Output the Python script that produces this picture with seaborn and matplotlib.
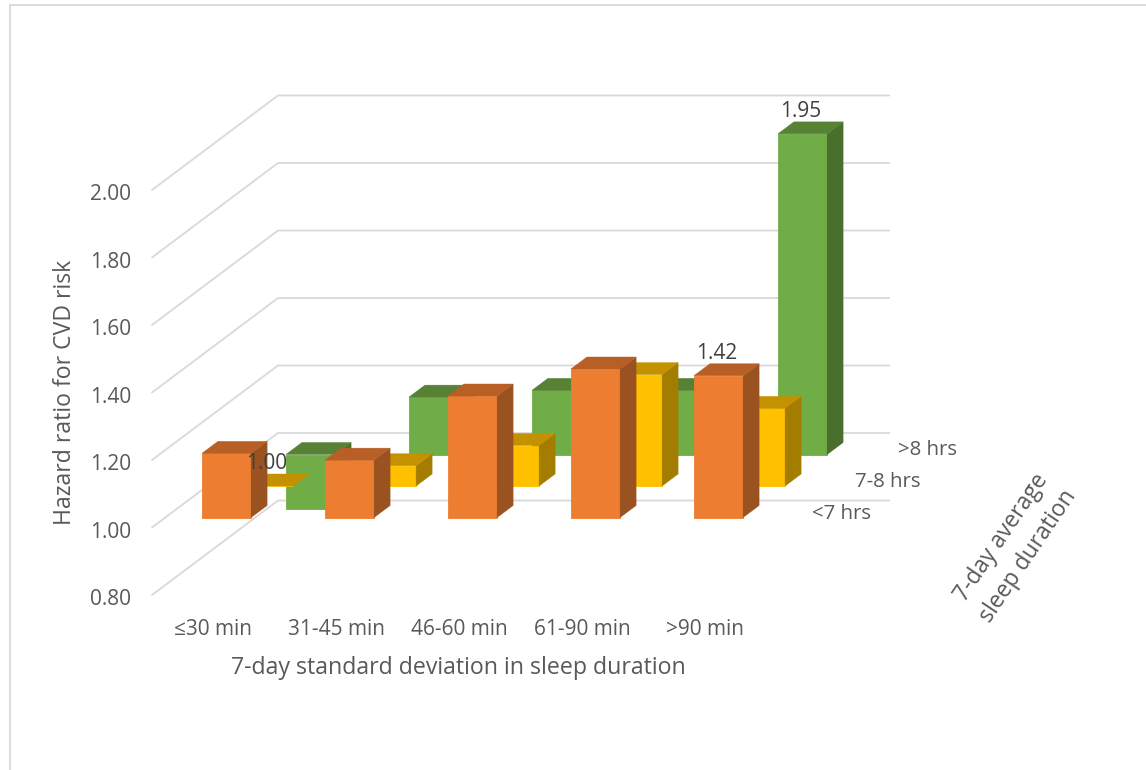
import matplotlib
matplotlib.use('Agg')
import matplotlib.pyplot as plt
import pandas as pd
import seaborn as sns
from matplotlib.lines import Line2D
from matplotlib.patches import Polygon
from matplotlib.transforms import IdentityTransform, ScaledTranslation

# values
sd_groups = ['≤30 min', '31-45 min', '46-60 min', '61-90 min', '>90 min']
hr_over8 = [0.84, 1.17, 1.19, 1.19, 1.95]
hr_7to8 = [1.00, 1.06, 1.12, 1.33, 1.23]
hr_under7 = [1.19, 1.17, 1.36, 1.44, 1.42]
y_ticks = [0.80, 1.00, 1.20, 1.40, 1.60, 1.80, 2.00]
labelled = [('7-8 hrs', '≤30 min'), ('<7 hrs', '>90 min'), ('>8 hrs', '>90 min')]

W, H = 1146, 770
TXT = '#595959'
GRID = '#D9D9D9'

# back to front, each with front/side/top colours
series = [
    ('>8 hrs', hr_over8, '#70AD47', '#4A6F2C', '#578235'),
    ('7-8 hrs', hr_7to8, '#FFC000', '#A37C00', '#C49200'),
    ('<7 hrs', hr_under7, '#ED7D31', '#9A5220', '#B85F26'),
]

df = pd.concat([pd.DataFrame({'sd': sd_groups, 'hr': v, 'avg': n}) for n, v, *_ in series])
df['rise'] = df['hr'] - 1

sns.set_theme(style='white')
plt.rcParams['font.family'] = ['Open Sans', 'DejaVu Sans']


def axes_rect(left, right, top, bottom):
    # pixel box (image coords) to figure fractions
    return [left / W, 1 - bottom / H, (right - left) / W, (bottom - top) / H]


def px(x, y):
    return x / W, 1 - y / H


fig = plt.figure(figsize=(W / 100, H / 100), dpi=100)
fig.patch.set_facecolor('white')

# front plane of the box, carries the axis text and the walls
ax = fig.add_axes(axes_rect(152, 767, 190, 595))
ax.set_xlim(-0.5, 4.5)
ax.set_ylim(0.8, 2.0)
ax.set_yticks(y_ticks, ['%.2f' % t for t in y_ticks])
ax.set_xticks(range(len(sd_groups)), sd_groups)
ax.tick_params(axis='y', length=0, pad=15, labelsize=15, labelcolor=TXT)
ax.tick_params(axis='x', length=0, pad=17.5, labelsize=15, labelcolor=TXT)
for lab in ax.get_yticklabels():
    lab.set_transform(lab.get_transform() + ScaledTranslation(0, -2 / 100, fig.dpi_scale_trans))
ax.set_xlabel('7-day standard deviation in sleep duration', fontsize=16.7, color=TXT)
ax.xaxis.set_label_coords((458 - 152) / 615, -(668 - 595) / 405, transform=ax.transAxes)
ax.xaxis.label.set_verticalalignment('center')
ax.set_ylabel('Hazard ratio for CVD risk', fontsize=16.6, color=TXT)
ax.yaxis.set_label_coords((65 - 152) / 615, (595 - 392) / 405, transform=ax.transAxes)
ax.yaxis.label.set_verticalalignment('center')
ax.patch.set_visible(False)
sns.despine(ax=ax, left=True, bottom=True, top=True, right=True)

# oblique walls: side wall then back wall
for t in y_ticks:
    x0, y0 = ax.transData.transform((-0.5, t))
    x1, y1 = ax.transData.transform((4.47, t))
    wall = Line2D([x0, x0 + 126, x1 + 126], [y0, y0 + 94.5, y0 + 94.5], color=GRID, lw=1.3,
                  transform=IdentityTransform(), clip_on=False, solid_joinstyle='miter')
    ax.add_line(wall)

bars_by_key = {}
n = len(series)
for i, (name, vals, front, side, top) in enumerate(series):
    depth = n - 1 - i
    # bar is 16x12 px deep, centred in a 42x31.5 px slot
    dx = 13 + 42 * depth
    dy = 10 + 31.5 * depth
    lay = fig.add_axes(axes_rect(152 + dx, 767 + dx, 190 - dy, 595 - dy))
    sns.barplot(data=df[df['avg'] == name], x='sd', y='rise', order=sd_groups, color=front,
                saturation=1, width=0.4, bottom=1.0, ax=lay, errorbar=None,
                edgecolor=front, linewidth=0.6)
    lay.set_xlim(-0.5, 4.5)
    lay.set_ylim(0.8, 2.0)
    lay.axis('off')
    for sd, p in zip(sd_groups, lay.patches):
        b = p.get_window_extent()
        x0, x1, y0, y1 = b.x0, b.x1, b.y0, b.y1
        lay.add_patch(Polygon([(x1, y0), (x1, y1), (x1 + 16, y1 + 12), (x1 + 16, y0 + 12)],
                              closed=True, fc=side, ec=side, lw=0.3,
                              transform=IdentityTransform(), clip_on=False))
        lay.add_patch(Polygon([(x0, y1), (x1, y1), (x1 + 16, y1 + 12), (x0 + 16, y1 + 12)],
                              closed=True, fc=top, ec=top, lw=0.3,
                              transform=IdentityTransform(), clip_on=False))
        bars_by_key[(name, sd)] = (b, vals[sd_groups.index(sd)])

# value labels sit above every bar layer
for key in labelled:
    b, v = bars_by_key[key]
    fig.text(((b.x0 + b.x1) / 2 - 2) / W, (b.y1 + 22.5) / H, '%.2f' % v,
             ha='center', va='center', fontsize=15, color='#404040', zorder=5)

# depth axis
for name, x, y in [('>8 hrs', 927, 450), ('7-8 hrs', 888, 482), ('<7 hrs', 842, 514)]:
    fig.text(*px(x, y), name, ha='center', va='center', fontsize=14.7, color=TXT)
fig.text(*px(1015, 547), '7-day average\nsleep duration', ha='center', va='center', rotation=56,
         rotation_mode='anchor', fontsize=16.5, color=TXT, linespacing=1.5)

# chart frame, only left and top survive the crop
fig.add_artist(Line2D([10 / W, 10 / W, 1], [0, 1 - 5 / H, 1 - 5 / H], color=GRID, lw=1.3))

fig.savefig('out.png', dpi=100)
